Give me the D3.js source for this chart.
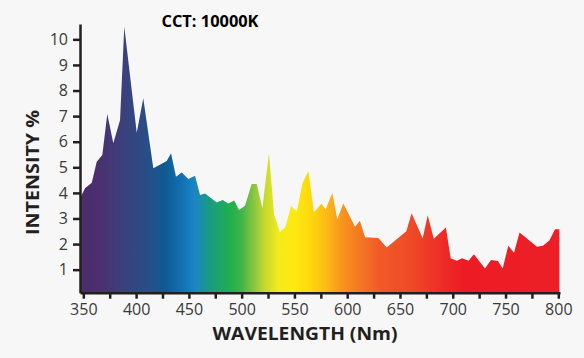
<!DOCTYPE html>
<html>
<head>
<meta charset="utf-8">
<script src="https://cdn.jsdelivr.net/npm/d3@7"></script>
<style>
  html, body { margin: 0; padding: 0; background: #f7f7f7; }
  svg { display: block; }
</style>
</head>
<body>
<svg id="chart" width="584" height="358"></svg>
<script>
// ---- data ----
const wavelengths = [347, 351.6, 358, 362.7, 368, 372.7, 378.4, 384.8, 388.8, 400.6, 406.8, 416.3, 429, 433.1, 437.8, 443.2, 449.5, 455.8, 460.6, 465.3, 476.4, 482, 487.4, 493, 497.5, 503.2, 509.5, 514.3, 519.6, 525.9, 530.7, 536.3, 541.5, 546.8, 552.2, 557.5, 563.2, 568.5, 575.5, 579.6, 585.9, 590.6, 596.3, 607.4, 612, 616.9, 629.5, 637.4, 656, 661, 671.5, 676.3, 682, 693.5, 698, 704, 708.8, 715, 720, 730.5, 736.2, 742.8, 747.3, 752.6, 758, 763.3, 779.8, 785.4, 791.5, 796.9, 801];
const intensity = [3.79, 4.18, 4.4, 5.22, 5.48, 7.08, 5.94, 6.85, 10.49, 6.35, 7.7, 4.96, 5.25, 5.55, 4.63, 4.8, 4.54, 4.67, 3.92, 3.98, 3.62, 3.72, 3.59, 3.7, 3.33, 3.5, 4.35, 4.35, 3.4, 5.55, 3.16, 2.46, 2.68, 3.49, 3.27, 4.37, 4.86, 3.23, 3.58, 3.36, 4.0, 2.97, 3.59, 2.68, 2.91, 2.27, 2.24, 1.87, 2.5, 3.2, 2.23, 3.13, 2.21, 2.65, 1.45, 1.35, 1.45, 1.35, 1.6, 1.05, 1.38, 1.34, 1.05, 1.93, 1.66, 2.45, 1.9, 1.93, 2.14, 2.58, 2.58];
const xTicks = [350, 375, 400, 425, 450, 475, 500, 525, 550, 575, 600, 625, 650, 675, 700, 725, 750, 775, 800];
const xTickLabels = ["350", "", "400", "", "450", "", "500", "", "550", "", "600", "", "650", "", "700", "", "750", "", "800"];
const yTicks = [1, 2, 3, 4, 5, 6, 7, 8, 9, 10];
const gradientNm = [347, 365, 385, 405, 428, 445, 455, 470, 490, 500, 512, 522, 535, 550, 565, 580, 595, 610, 630, 660, 690, 710, 801];
const gradientColors = ["#4b2c6d", "#4b2f6e", "#3c3f7b", "#2e4a84", "#0f5b94", "#1273b5", "#1c84c6", "#199c7f", "#21b04b", "#3fb549", "#8dc63f", "#c5d82f", "#f3eb1b", "#fde910", "#fed80c", "#fbbb15", "#f7951d", "#f47c20", "#f15a29", "#ef4a27", "#ed2c26", "#ed1c24", "#ec1f27"];
const title = "CCT: 10000K";
const xTitle = "WAVELENGTH (Nm)";
const yTitle = "INTENSITY %";

// ---- layout ----
const svg = d3.select("#chart");
const x = d3.scaleLinear().domain([346.85, 801.6]).range([80, 560]);
const y = d3.scaleLinear().domain([0.1, 10.6]).range([292.7, 24]);
const data = wavelengths.map((w, i) => ({ w, v: intensity[i] }));
const axisColor = "#231f20";

// gradient
const defs = svg.append("defs");
const grad = defs.append("linearGradient")
  .attr("id", "spec")
  .attr("gradientUnits", "userSpaceOnUse")
  .attr("x1", x(gradientNm[0])).attr("x2", x(gradientNm[gradientNm.length - 1]))
  .attr("y1", 0).attr("y2", 0);
const span = gradientNm[gradientNm.length - 1] - gradientNm[0];
gradientNm.forEach((nm, i) => {
  grad.append("stop")
    .attr("offset", (nm - gradientNm[0]) / span)
    .attr("stop-color", gradientColors[i]);
});

// area
const area = d3.area()
  .x(d => x(d.w))
  .y0(y(0.1))
  .y1(d => y(d.v));
svg.append("path")
  .datum(data)
  .attr("d", area)
  .attr("fill", "url(#spec)");

// axes
const fontFam = "'Open Sans', 'Noto Sans', sans-serif";
const yAxis = svg.append("g")
  .attr("transform", `translate(${x.range()[0]},0)`)
  .call(d3.axisLeft(y).tickValues(yTicks).tickSize(7).tickPadding(5).tickSizeOuter(0).tickFormat(d3.format("d")));
const xAxis = svg.append("g")
  .attr("transform", `translate(0,${y.range()[0]})`)
  .call(d3.axisBottom(x).tickValues(xTicks).tickSize(6).tickPadding(5).tickSizeOuter(0)
    .tickFormat((d, i) => xTickLabels[i]));

[yAxis, xAxis].forEach(g => {
  g.select(".domain").attr("stroke", axisColor).attr("stroke-width", 2.5);
  g.selectAll(".tick line").attr("stroke", axisColor).attr("stroke-width", 2.5);
  g.selectAll(".tick text")
    .attr("fill", "#3a3a3a")
    .style("font-family", fontFam)
    .style("font-size", "16px");
});

// titles
svg.append("text")
  .attr("x", 161.5).attr("y", 27)
  .attr("textLength", 97).attr("lengthAdjust", "spacingAndGlyphs")
  .style("font-family", fontFam)
  .style("font-weight", "700")
  .style("font-size", "16px")
  .attr("fill", "#000")
  .text(title);

svg.append("text")
  .attr("x", 305).attr("y", 340)
  .attr("text-anchor", "middle")
  .attr("textLength", 185).attr("lengthAdjust", "spacingAndGlyphs")
  .style("font-family", fontFam)
  .style("font-weight", "700")
  .style("font-size", "17px")
  .attr("fill", axisColor)
  .text(xTitle);

svg.append("text")
  .attr("transform", "translate(39,172.5) rotate(-90)")
  .attr("text-anchor", "middle")
  .attr("textLength", 125).attr("lengthAdjust", "spacingAndGlyphs")
  .style("font-family", fontFam)
  .style("font-weight", "700")
  .style("font-size", "17px")
  .attr("fill", axisColor)
  .text(yTitle);
</script>
</body>
</html>
